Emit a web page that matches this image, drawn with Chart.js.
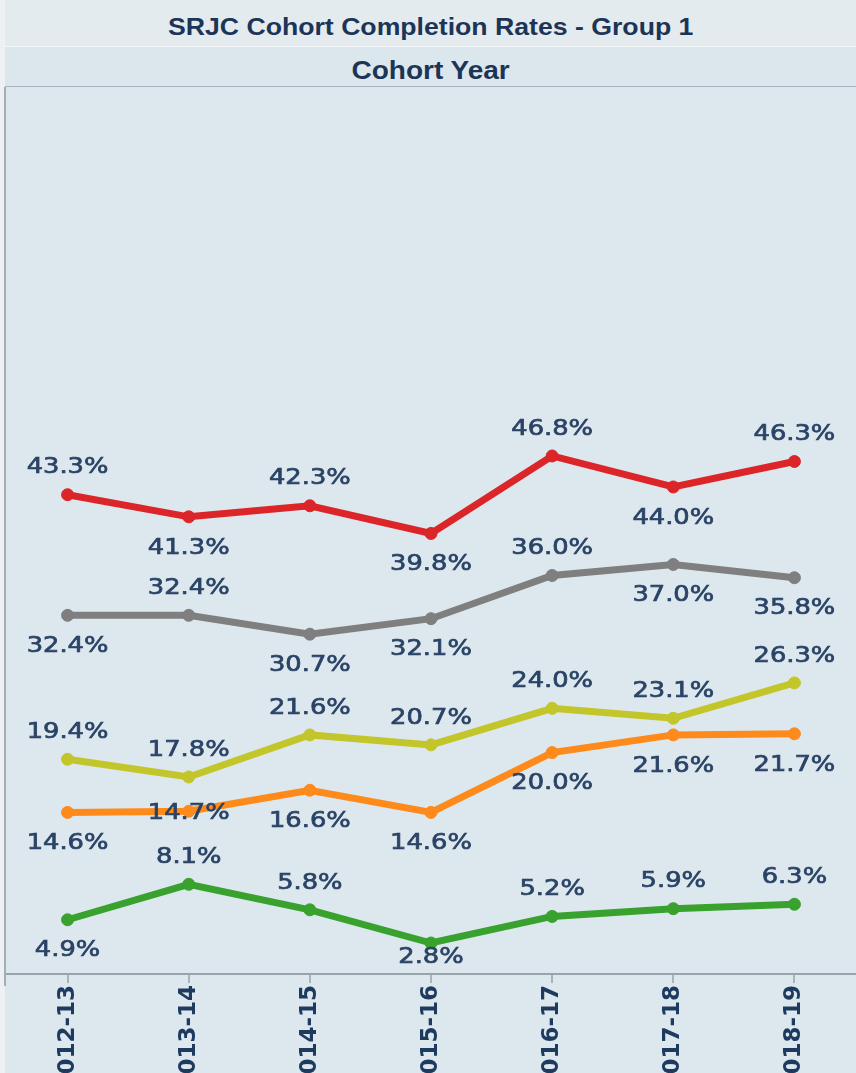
<!DOCTYPE html>
<html>
<head>
<meta charset="utf-8">
<script src="https://cdn.jsdelivr.net/npm/chart.js@4"></script>
<style>
  html, body { margin: 0; padding: 0; }
  body { width: 856px; height: 1073px; overflow: hidden; background: #edf1f3; position: relative; }
  .band { position: absolute; left: 5px; width: 851px; text-align: center; color: #1c3557;
          font-family: "Liberation Sans", Arial, sans-serif; font-weight: bold; }
  .band span { display: inline-block; }
  #band1 { top: 0; height: 46px; background: #e4ebef; }
  #band1 span { font-size: 24px; line-height: 54px; transform: scaleX(1.11); }
  #band2 { top: 46px; height: 39px; background: #dce7ed; border-top: 1px solid #f3f6f8; border-bottom: 2px solid #a7b3ba; }
  #band2 span { font-size: 25px; line-height: 47px; transform: scaleX(1.12); }
  #wrap { position: absolute; left: 0; top: 87px; width: 862px; height: 1010px; }
</style>
</head>
<body>
<div id="band1" class="band"><span>SRJC Cohort Completion Rates - Group 1</span></div>
<div id="band2" class="band"><span>Cohort Year</span></div>
<div id="wrap"><canvas id="chart"></canvas></div>
<script>
const years = ['2012-13', '2013-14', '2014-15', '2015-16', '2016-17', '2017-18', '2018-19'];

const redRates    = [43.3, 41.3, 42.3, 39.8, 46.8, 44.0, 46.3];
const greyRates   = [32.4, 32.4, 30.7, 32.1, 36.0, 37.0, 35.8];
const yellowRates = [19.4, 17.8, 21.6, 20.7, 24.0, 23.1, 26.3];
const orangeRates = [14.6, 14.7, 16.6, 14.6, 20.0, 21.6, 21.7];
const greenRates  = [4.9, 8.1, 5.8, 2.8, 5.2, 5.9, 6.3];

// where each value label sits: a = above, b = below, c = on the line, l = just under
const redPlace    = ['a', 'b', 'a', 'b', 'a', 'b', 'a'];
const greyPlace   = ['b', 'a', 'b', 'b', 'a', 'b', 'b'];
const yellowPlace = ['a', 'a', 'a', 'a', 'a', 'a', 'a'];
const orangePlace = ['b', 'c', 'b', 'b', 'b', 'b', 'b'];
const greenPlace  = ['b', 'a', 'a', 'l', 'a', 'a', 'a'];

const placeOffset = { a: -27, b: 31, c: 2, l: 14 };

function series(data, color, place) {
    return {
        data: data,
        place: place,
        borderColor: color,
        backgroundColor: color,
        borderWidth: 7,
        pointRadius: 6,
        pointBorderWidth: 1,
        pointBackgroundColor: color,
        pointBorderColor: color,
        tension: 0,
    };
}

const backdrop = {
    id: 'backdrop',
    beforeDraw(chart) {
        const c = chart.ctx;
        const area = chart.chartArea;
        c.save();
        c.fillStyle = '#edf1f3';
        c.fillRect(0, 0, chart.width, chart.height);
        c.fillStyle = '#dde8ee';
        c.fillRect(5, 0, chart.width - 5, chart.height);
        c.strokeStyle = '#a3aeb5';
        c.lineWidth = 2;
        c.beginPath();
        c.moveTo(5, 0);
        c.lineTo(5, area.bottom + 12);
        c.stroke();
        c.restore();
    }
};

const valueLabels = {
    id: 'valueLabels',
    afterDatasetsDraw(chart) {
        const c = chart.ctx;
        c.save();
        c.font = '22px "DejaVu Sans"';
        c.fillStyle = '#2a4366';
        c.strokeStyle = '#2a4366';
        c.lineWidth = 0.7;
        c.textAlign = 'center';
        c.textBaseline = 'middle';
        chart.data.datasets.forEach((ds, i) => {
            chart.getDatasetMeta(i).data.forEach((pt, j) => {
                const txt = ds.data[j].toFixed(1) + '%';
                c.save();
                c.translate(pt.x, pt.y + placeOffset[ds.place[j]]);
                c.scale(1.17, 1);
                c.fillText(txt, 0, 0);
                c.strokeText(txt, 0, 0);
                c.restore();
            });
        });
        c.restore();
    }
};

new Chart(document.getElementById('chart'), {
    type: 'line',
    data: {
        labels: years,
        datasets: [
            series(redRates, '#dc2528', redPlace),
            series(greyRates, '#7f7f7f', greyPlace),
            series(yellowRates, '#c3c62b', yellowPlace),
            series(orangeRates, '#ff8a1c', orangePlace),
            series(greenRates, '#39a12d', greenPlace),
        ]
    },
    options: {
        responsive: true,
        maintainAspectRatio: false,
        animation: false,
        layout: { padding: { left: 7, right: 3, top: 0, bottom: 0 } },
        plugins: {
            legend: { display: false },
            tooltip: { enabled: false },
        },
        scales: {
            x: {
                offset: true,
                afterFit: (scale) => { scale.height = 123; },
                grid: {
                    drawOnChartArea: false,
                    drawTicks: true,
                    tickLength: 9,
                    color: '#a9b3ba',
                    lineWidth: 2,
                },
                border: { display: true, color: '#98a4ac', width: 2 },
                ticks: {
                    autoSkip: false,
                    minRotation: 90,
                    maxRotation: 90,
                    padding: 2,
                    color: '#1e3a5f',
                    font: { family: 'DejaVu Sans', size: 23, weight: 'bold' },
                }
            },
            y: {
                display: false,
                min: 0,
                max: 79.5,
            }
        }
    },
    plugins: [backdrop, valueLabels]
});
</script>
</body>
</html>
